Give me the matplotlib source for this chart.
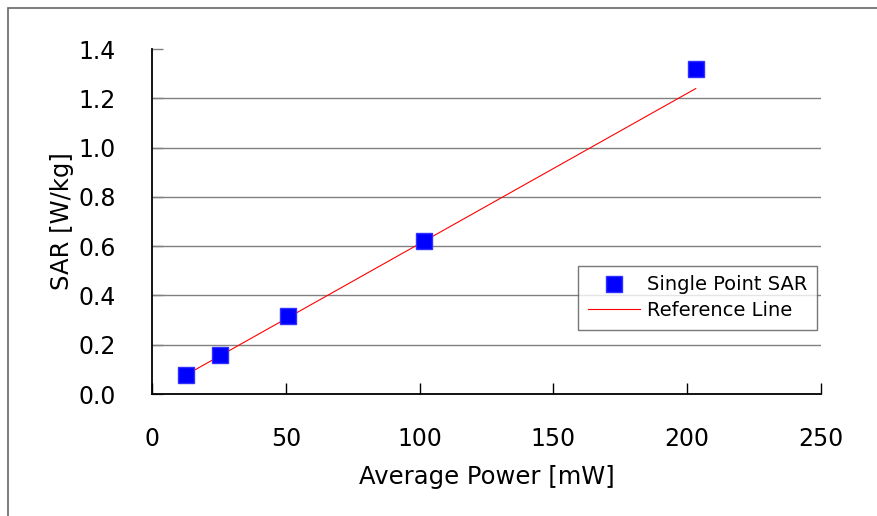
import matplotlib.pyplot as plt
import numpy as np
from matplotlib.patches import Rectangle

# measured points
power_mw = [12.7, 25.4, 50.8, 101.6, 203.2]
sar_wkg = [0.078, 0.158, 0.317, 0.621, 1.320]

# reference line end points
ref_x = [12.7, 203.2]
ref_y = [0.0775, 1.2395]

xticks = [0, 50, 100, 150, 200, 250]
yticks = [0.0, 0.2, 0.4, 0.6, 0.8, 1.0, 1.2, 1.4]

plt.rcParams['font.family'] = ['DejaVu Sans']

fig = plt.figure(figsize=(8.77, 5.16), dpi=100)
ax = fig.add_axes([152/877, 1 - 394/516, (821-152)/877, (394-49)/516])

# outer chart border (only left/top visible in crop)
fig.patches.append(Rectangle((8/877, -0.1), 1.2, 1.1 - 8/516,
                             transform=fig.transFigure, fill=False,
                             edgecolor='#666666', linewidth=1.2))

for y in yticks[1:-1]:
    ax.axhline(y, color='#808080', linewidth=1.0, zorder=0)

ax.plot(ref_x, ref_y, color='#ff0000', linewidth=0.8, label='Reference Line', zorder=2)
ax.plot(power_mw, sar_wkg, linestyle='none', marker='s', markersize=11,
        color='#0000ff', markeredgecolor='#3030ff', label='Single Point SAR', zorder=3)

ax.set_xlim(0, 250)
ax.set_ylim(0, 1.4)
ax.set_xticks(xticks)
ax.set_yticks(yticks)
ax.set_yticklabels([f'{v:.1f}' for v in yticks])
ax.spines['top'].set_visible(False)
ax.spines['right'].set_visible(False)
ax.spines['left'].set_linewidth(1.3)
ax.spines['bottom'].set_linewidth(1.3)
ax.tick_params(axis='x', direction='in', length=8, width=1, labelsize=17, pad=24)
ax.tick_params(axis='y', direction='in', length=8, width=1, color='#808080',
               labelsize=17, pad=26)

ax.set_xlabel('Average Power [mW]', fontsize=17.5, labelpad=10)
ax.set_ylabel('SAR [W/kg]', fontsize=17.5, labelpad=3)

h, l = ax.get_legend_handles_labels()
leg = ax.legend(h[::-1], l[::-1], loc='lower right', bbox_to_anchor=(0.994, 0.1855),
                borderaxespad=0, fontsize=14, frameon=True, fancybox=False,
                edgecolor='#555555', handlelength=2.7, handletextpad=0.35,
                borderpad=0.5, labelspacing=0.35)
leg.get_frame().set_linewidth(1.0)

fig.savefig('out.png', dpi=100)
